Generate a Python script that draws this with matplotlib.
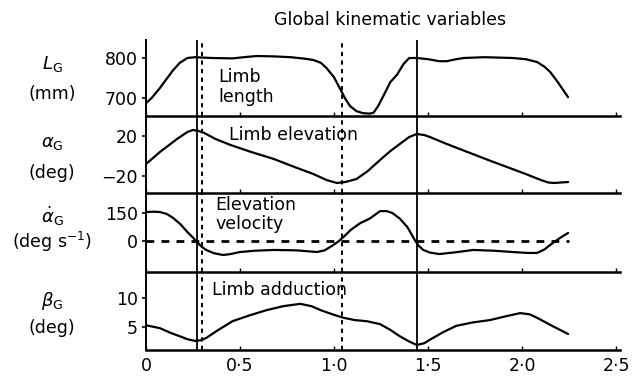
import matplotlib
matplotlib.use("Agg")
import matplotlib.pyplot as plt

plt.rcParams['font.family'] = ['DejaVu Sans']
plt.rcParams['mathtext.fontset'] = 'dejavusans'

# ---- data ----
t_len = [0.0, 0.03, 0.074, 0.11, 0.145, 0.18, 0.22, 0.26, 0.35, 0.46, 0.52, 0.59, 0.68,
         0.77, 0.85, 0.89, 0.93, 0.96, 1.0, 1.03, 1.06, 1.085, 1.12, 1.155, 1.19, 1.21,
         1.235, 1.27, 1.30, 1.335, 1.37, 1.40, 1.44, 1.50, 1.56, 1.60, 1.65, 1.69, 1.80,
         1.95, 2.02, 2.08, 2.12, 2.15, 2.19, 2.245]
limb_length = [687, 700, 725, 748, 770, 788, 800, 802, 800, 799, 802, 805, 804,
               802, 798, 795, 788, 775, 752, 725, 698, 680, 667, 662, 661, 663,
               680, 712, 740, 758, 785, 800, 800, 797, 792, 792, 797, 800, 802,
               800, 797, 790, 778, 765, 740, 702]

t_elev = [0.0, 0.074, 0.165, 0.22, 0.25, 0.28, 0.31, 0.37, 0.45, 0.56, 0.68, 0.79,
          0.89, 0.96, 1.015, 1.06, 1.12, 1.18, 1.245, 1.30, 1.35, 1.40, 1.44, 1.48,
          1.51, 1.60, 1.71, 1.82, 1.92, 2.02, 2.10, 2.14, 2.17, 2.245]
limb_elevation = [-8, 4, 17, 24, 26, 25, 23, 17, 11, 4, -3, -11,
                  -18, -24, -27, -26, -23, -15, -4, 5, 12, 19, 22, 21,
                  19, 12, 4, -4, -11, -18, -24, -26.5, -27, -26]

t_vel = [0.0, 0.04, 0.074, 0.11, 0.145, 0.185, 0.22, 0.25, 0.27, 0.295, 0.32, 0.36,
         0.41, 0.45, 0.50, 0.58, 0.68, 0.80, 0.91, 0.95, 0.98, 1.02, 1.05, 1.09, 1.14,
         1.19, 1.245, 1.28, 1.31, 1.35, 1.39, 1.41, 1.43, 1.45, 1.475, 1.51, 1.56,
         1.65, 1.74, 1.85, 1.95, 2.03, 2.08, 2.12, 2.15, 2.20, 2.245]
elevation_velocity = [155, 157, 155, 145, 123, 88, 48, 18, -5, -30, -48, -65,
                      -75, -70, -59, -52, -48, -50, -59, -50, -32, -5, 21, 60, 96,
                      120, 160, 160, 150, 120, 75, 40, 5, -25, -48, -62, -70,
                      -60, -48, -52, -59, -64, -64, -45, -21, 15, 43]

t_add = [0.0, 0.074, 0.13, 0.18, 0.22, 0.26, 0.29, 0.32, 0.38, 0.46, 0.55, 0.64,
         0.73, 0.82, 0.88, 0.93, 1.0, 1.05, 1.11, 1.175, 1.245, 1.30, 1.35, 1.40,
         1.44, 1.48, 1.51, 1.58, 1.65, 1.74, 1.83, 1.92, 1.99, 2.04, 2.08, 2.16, 2.245]
limb_adduction = [5.3, 4.8, 4.0, 3.4, 2.9, 2.6, 2.7, 3.1, 4.4, 6.0, 7.0, 7.9,
                  8.6, 9.0, 8.6, 7.9, 7.1, 6.6, 6.2, 6.0, 5.5, 4.5, 3.4, 2.5,
                  1.9, 2.2, 2.8, 4.1, 5.2, 5.8, 6.2, 6.9, 7.4, 7.2, 6.6, 5.2, 3.8]

solid_events = [0.27, 1.44]
dashed_events = [0.30, 1.04]

x_ticks = [0, 0.5, 1.0, 1.5, 2.0, 2.5]
x_tick_labels = ['0', '0·5', '1·0', '1·5', '2·0', '2·5']

panel_names = [['Limb', 'length'], ['Limb elevation'], ['Elevation', 'velocity'], ['Limb adduction']]
y_symbols = [r'$L_{\mathrm{G}}$', r'$\alpha_{\mathrm{G}}$', r'$\dot{\alpha}_{\mathrm{G}}$', r'$\beta_{\mathrm{G}}$']
y_units = ['(mm)', '(deg)', '(deg s$^{-1}$)', '(deg)']
y_ticks = [[700, 800], [-20, 20], [0, 150], [5, 10]]
y_tick_labels = [['700', '800'], ['\u221220', '20'], ['0', '150'], ['5', '10']]
y_lims = [(655, 845), (-37, 40), (-166, 257), (1.03, 14.5)]

series = [(t_len, limb_length), (t_elev, limb_elevation),
          (t_vel, elevation_velocity), (t_add, limb_adduction)]

# ---- layout ----
W, H = 635, 376
fig = plt.figure(figsize=(W / 100, H / 100), dpi=100)
left = 146 / W
right = 620 / W
edges = [40, 116, 193, 272, 350]   # pixel rows of panel boundaries
xmax = (620 - 146) / 188
FS = 12.5

axes = []
for i in range(4):
    top, bot = edges[i], edges[i + 1]
    ax = fig.add_axes([left, 1 - bot / H, right - left, (bot - top) / H])
    axes.append(ax)
    t, v = series[i]
    ax.plot(t, v, color='black', lw=1.6, solid_joinstyle='round', solid_capstyle='round')
    ax.set_xlim(0, xmax)
    ax.set_ylim(*y_lims[i])
    for s in ['top', 'right']:
        ax.spines[s].set_visible(False)
    ax.spines['left'].set_linewidth(1.4)
    ax.spines['bottom'].set_linewidth(1.8)
    ax.set_yticks(y_ticks[i])
    ax.set_yticklabels(y_tick_labels[i], fontsize=FS)
    ax.tick_params(axis='y', direction='out', length=3, width=1.2, pad=3)
    ax.set_xticks(x_ticks)
    ax.tick_params(axis='x', direction='in', length=3, width=1.0, pad=5)
    if i < 3:
        ax.set_xticklabels([])
    else:
        ax.set_xticklabels(x_tick_labels, fontsize=FS)
    for e in solid_events:
        ax.axvline(e, color='black', lw=1.3)
    for e in dashed_events:
        ax.axvline(e, color='black', lw=1.4, ls=(0, (2.2, 2.2)))
    ax.patch.set_alpha(0)

# zero line in velocity panel
axes[2].plot([0, 2.25], [0, 0], color='black', lw=2.0, ls=(0, (2.8, 2.6)))

# panel names
name_pos = [(218, [77, 97]), (229, [135]), (215, [205, 224]), (212, [290])]
for (x, ys), lines in zip(name_pos, panel_names):
    for y, txt in zip(ys, lines):
        fig.text(x / W, 1 - y / H, txt, fontsize=FS, ha='left', va='center')

# y labels
sym_y = [64, 143, 216, 301]
unit_y = [94, 173, 242, 328]
for i in range(4):
    fig.text(52 / W, 1 - sym_y[i] / H, y_symbols[i], fontsize=13, ha='center', va='center')
    fig.text(52 / W, 1 - unit_y[i] / H, y_units[i], fontsize=FS, ha='center', va='center')

fig.text(390 / W, 1 - 20 / H, 'Global kinematic variables', fontsize=FS, ha='center', va='center')

fig.savefig('out.png', dpi=100)
